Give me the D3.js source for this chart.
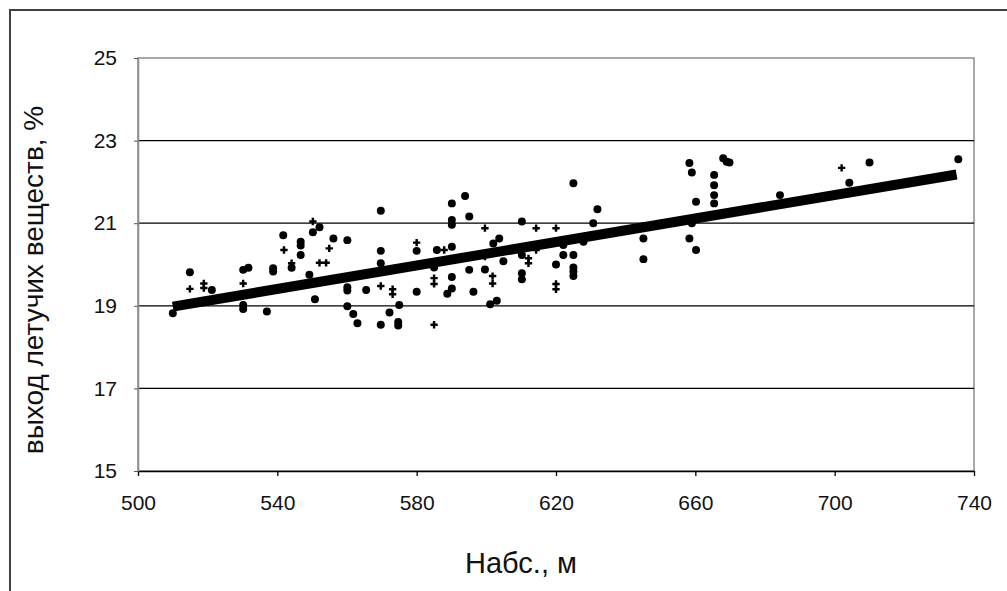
<!DOCTYPE html>
<html>
<head>
<meta charset="utf-8">
<script src="https://cdn.jsdelivr.net/npm/d3@7"></script>
<style>
  body { margin: 0; background: #fff; }
  svg { display: block; font-family: "Liberation Sans", Arial, sans-serif; }
</style>
</head>
<body>
<div id="graf"></div>
<script>
// 1. datos leidos del grafico
// puntos grandes
dotX = [541.7, 546.7, 546.7, 546.7, 514.9, 521.2, 530.2, 531.7, 538.8, 538.8, 544.1, 510.0, 530.2, 530.2, 537.0,
        569.7, 590.1, 590.1, 590.1, 552.1, 550.2, 556.1, 560.1, 569.7, 569.7, 580.0, 585.8, 590.1, 585.0, 549.2,
        590.1, 560.1, 560.1, 565.5, 580.0, 590.1, 588.8, 550.8, 560.1, 561.8, 563.0, 575.0, 572.2, 569.7, 574.7,
        574.7, 625.0, 593.9, 595.1, 631.9, 610.2, 630.7, 627.9, 603.7, 602.0, 622.1, 622.1, 625.0, 610.2, 604.9,
        620.0, 595.1, 599.6, 625.0, 625.0, 625.0, 610.2, 610.2, 596.3, 601.1, 603.0, 658.3, 659.0, 668.0, 669.0,
        669.8, 665.4, 665.4, 665.4, 665.4, 660.2, 684.3, 659.0, 645.1, 658.3, 660.2, 645.1, 710.0, 735.5, 704.2]
dotY = [20.71, 20.55, 20.46, 20.23, 19.81, 19.38, 19.87, 19.92, 19.91, 19.83, 19.92, 18.82, 19.02, 18.92, 18.86,
        21.30, 21.48, 21.08, 20.96, 20.90, 20.78, 20.63, 20.59, 20.33, 20.03, 20.33, 20.35, 20.43, 19.93, 19.75,
        19.70, 19.45, 19.37, 19.38, 19.34, 19.42, 19.29, 19.16, 18.99, 18.80, 18.58, 19.02, 18.84, 18.54, 18.61,
        18.52, 21.97, 21.66, 21.16, 21.34, 21.04, 21.00, 20.55, 20.63, 20.51, 20.47, 20.23, 20.23, 20.23, 20.08,
        20.00, 19.87, 19.88, 19.93, 19.83, 19.72, 19.79, 19.64, 19.34, 19.04, 19.12, 22.46, 22.23, 22.57, 22.49,
        22.47, 22.17, 21.92, 21.68, 21.48, 21.52, 21.68, 21.00, 20.63, 20.63, 20.35, 20.13, 22.47, 22.55, 21.98]

// puntos pequenos
plusX = [541.9, 514.9, 518.9, 518.9, 530.2, 544.1, 550.2, 552.1, 554.0, 554.9, 580.0, 587.9, 585.0, 585.0, 569.7,
         573.1, 573.1, 585.0, 599.6, 614.3, 620.0, 614.3, 612.1, 612.1, 599.6, 601.8, 601.8, 620.0, 620.0, 702.0]
plusY = [20.35, 19.41, 19.54, 19.43, 19.54, 20.03, 21.04, 20.04, 20.04, 20.39, 20.53, 20.35, 19.67, 19.53, 19.48,
         19.40, 19.28, 18.54, 20.88, 20.88, 20.88, 20.35, 20.15, 20.03, 20.19, 19.72, 19.54, 19.53, 19.40, 22.34]

// linea de tendencia
trendX = [510, 735]
trendY = [18.98, 22.18]

xTicks = [500, 540, 580, 620, 660, 700, 740]
yTicks = [15, 17, 19, 21, 23, 25]
gridY  = [17, 19, 21, 23]

tituloX = 'Набс., м'
tituloY = 'выход летучих веществ, %'

// 2. configuracion
ANCHO = 1007
ALTO  = 591
margins = { top: 58, left: 138, right: 33, bottom: 120 }
ancho = ANCHO - margins.left - margins.right
alto  = ALTO - margins.top - margins.bottom

svg = d3.select('#graf').append('svg')
  .attr('width', ANCHO)
  .attr('height', ALTO)

// marco exterior
svg.append('rect')
  .attr('x', 10).attr('y', 10)
  .attr('width', 1100).attr('height', 700)
  .attr('fill', 'none')
  .attr('stroke', '#404040')
  .attr('stroke-width', 2)

g = svg.append('g').attr('transform', `translate(${margins.left},${margins.top})`)

fx = d3.scaleLinear().domain([500, 740]).range([0, ancho])
fy = d3.scaleLinear().domain([15, 25]).range([alto, 0])

// borde del area de trazado
g.append('rect')
  .attr('x', 0).attr('y', 0)
  .attr('width', ancho).attr('height', alto)
  .attr('fill', 'none')
  .attr('stroke', '#8c8c8c')
  .attr('stroke-width', 1.5)

// lineas de division
g.selectAll('line.grid').data(gridY).enter()
  .append('line')
  .attr('class', 'grid')
  .attr('x1', 0).attr('x2', ancho)
  .attr('y1', d => fy(d)).attr('y2', d => fy(d))
  .attr('stroke', '#000')
  .attr('stroke-width', 1.3)

// ejes
ejeX = g.append('g')
  .attr('transform', `translate(0,${alto})`)
  .call(d3.axisBottom(fx).tickValues(xTicks).tickSize(5).tickPadding(19).tickSizeOuter(0))
ejeX.select('.domain').attr('stroke', '#000').attr('stroke-width', 1.5)
ejeX.selectAll('line').attr('stroke', '#000').attr('stroke-width', 1.3)
ejeX.selectAll('text').attr('font-size', 21).attr('fill', '#111')
  .attr('font-family', '"Liberation Sans", Arial, sans-serif')

ejeY = g.append('g')
  .call(d3.axisLeft(fy).tickValues(yTicks).tickSize(4).tickPadding(17).tickSizeOuter(0))
ejeY.select('.domain').attr('stroke', '#8c8c8c').attr('stroke-width', 1.5)
ejeY.selectAll('line').attr('stroke', '#555').attr('stroke-width', 1)
ejeY.selectAll('text').attr('font-size', 21).attr('fill', '#111')
  .attr('font-family', '"Liberation Sans", Arial, sans-serif')

// linea de tendencia
g.append('line')
  .attr('x1', fx(trendX[0])).attr('y1', fy(trendY[0]))
  .attr('x2', fx(trendX[1])).attr('y2', fy(trendY[1]))
  .attr('stroke', '#000')
  .attr('stroke-width', 10)

// puntos
puntos = dotX.map((x, i) => [x, dotY[i]])
g.selectAll('path.dot').data(puntos).enter()
  .append('path')
  .attr('class', 'dot')
  .attr('d', d3.symbol().type(d3.symbolCircle).size(50))
  .attr('transform', d => `translate(${fx(d[0])},${fy(d[1])})`)
  .attr('fill', '#000')

pequenos = plusX.map((x, i) => [x, plusY[i]])
g.selectAll('path.plus').data(pequenos).enter()
  .append('path')
  .attr('class', 'plus')
  .attr('d', d3.symbol().type(d3.symbolCross).size(30))
  .attr('transform', d => `translate(${fx(d[0])},${fy(d[1])})`)
  .attr('fill', '#000')

// titulos
svg.append('text')
  .attr('x', 521).attr('y', 573)
  .attr('text-anchor', 'middle')
  .attr('font-size', 29)
  .attr('fill', '#111')
  .text(tituloX)

svg.append('text')
  .attr('transform', 'translate(43,280) rotate(-90)')
  .attr('text-anchor', 'middle')
  .attr('font-size', 28)
  .attr('fill', '#111')
  .text(tituloY)
</script>
</body>
</html>
